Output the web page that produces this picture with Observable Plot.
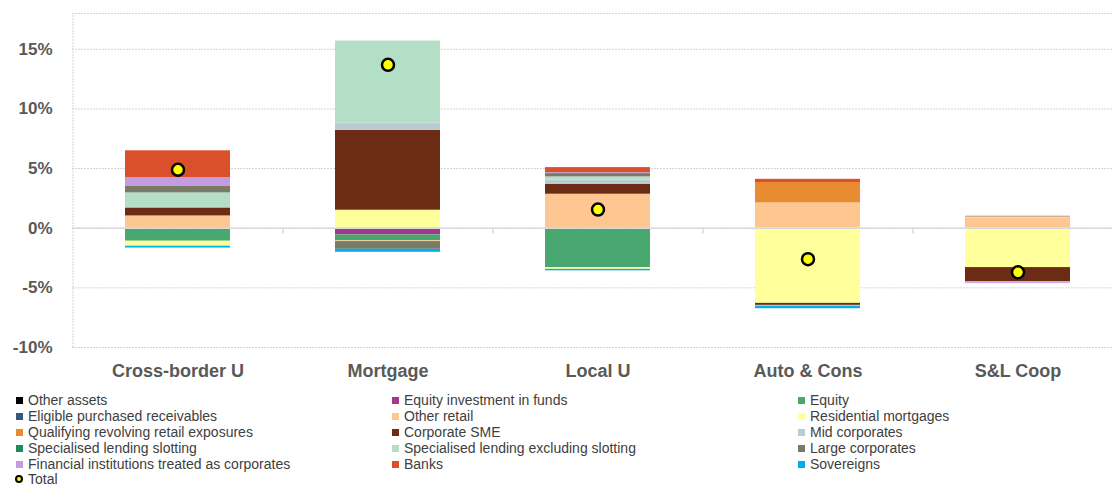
<!DOCTYPE html>
<html>
<head>
<meta charset="utf-8">
<script src="https://cdn.jsdelivr.net/npm/d3@7"></script>
<script src="https://cdn.jsdelivr.net/npm/@observablehq/plot@0.6"></script>
<style>
  html, body { margin: 0; padding: 0; background: #fff; overflow: hidden; }
  #wrap { position: relative; width: 1112px; height: 488px; overflow: hidden; font-family: "Liberation Sans", Arial, sans-serif; }
  #chart { position: absolute; left: 0; top: 0; }
  #chart svg { max-width: none !important; }
  .leg { position: absolute; font-size: 14px; color: #404040; white-space: nowrap; line-height: 12px; }
  .sw { position: absolute; width: 7px; height: 7px; top: 2.5px; left: -12px; }
  .dotsw { position: absolute; width: 4px; height: 4px; top: 2px; left: -13px; border: 2px solid #000; border-radius: 50%; background: #ffff00; }
</style>
</head>
<body>
<div id="wrap"><div id="chart"></div><div id="legend"></div></div>
<script>
// Categories
const categories = ["Cross-border U", "Mortgage", "Local U", "Auto & Cons", "S&L Coop"];

// Series values (percent), in category order
const otherAssets            = [0, 0, 0, 0, 0];
const equityInvestmentFunds  = [0, -0.56, 0, 0, 0];
const equity                 = [-1.09, -0.5, -3.3, 0, 0];
const eligibleReceivables    = [0, 0, 0, 0, 0];
const otherRetail            = [1.03, -0.06, 2.85, 2.12, 0.85];
const residentialMortgages   = [-0.42, 1.51, -0.15, -6.3, -3.3];
const qualifyingRevolving    = [0, 0, 0, 1.71, 0];
const corporateSME           = [0.67, 6.7, 0.84, -0.17, -1.2];
const midCorporates          = [0, 0.61, 0.35, -0.08, -0.06];
const specLendingSlotting    = [0, 0, 0, 0, 0];
const specLendingExSlotting  = [1.26, 6.87, 0.26, 0, 0.1];
const largeCorporates        = [0.58, -0.65, 0.28, 0, 0];
const financialInstitutions  = [0.7, 0, 0.08, 0, -0.08];
const banks                  = [2.25, 0, 0.42, 0.27, 0.05];
const sovereigns             = [-0.15, -0.25, -0.12, -0.2, 0];
const total                  = [4.9, 13.7, 1.56, -2.6, -3.7];

// Series names and colours
const seriesNames = [
  "Other assets", "Equity investment in funds", "Equity",
  "Eligible purchased receivables", "Other retail", "Residential mortgages",
  "Qualifying revolving retail exposures", "Corporate SME", "Mid corporates",
  "Specialised lending slotting", "Specialised lending excluding slotting", "Large corporates",
  "Financial institutions treated as corporates", "Banks", "Sovereigns"
];
const seriesColors = [
  "#000000", "#a4398c", "#48a870",
  "#2f5b7c", "#fec690", "#ffff9b",
  "#e98b31", "#6b2b14", "#b9ccd4",
  "#1f8a5a", "#b3dfc6", "#7a7a66",
  "#c49ce0", "#d9502a", "#00aeef"
];
const seriesValues = [
  otherAssets, equityInvestmentFunds, equity,
  eligibleReceivables, otherRetail, residentialMortgages,
  qualifyingRevolving, corporateSME, midCorporates,
  specLendingSlotting, specLendingExSlotting, largeCorporates,
  financialInstitutions, banks, sovereigns
];
const yTicks = [-10, -5, 0, 5, 10, 15];

// Long-form table
const rows = [];
seriesNames.forEach((s, i) => {
  categories.forEach((c, j) => {
    rows.push({ series: s, category: c, value: seriesValues[i][j] });
  });
});
const totals = categories.map((c, j) => ({ category: c, value: total[j] }));

const chart = Plot.plot({
  width: 1122,
  height: 390,
  marginLeft: 72,
  marginRight: 0,
  marginTop: 13,
  marginBottom: 43,
  style: { fontFamily: "Liberation Sans, Arial, sans-serif", background: "transparent", maxWidth: "none" },
  x: { domain: categories, paddingInner: 0.5, paddingOuter: 0.25, label: null },
  y: { domain: [-10, 18], label: null },
  color: { domain: seriesNames, range: seriesColors },
  marks: [
    Plot.ruleY(yTicks, { stroke: "#d4d4d4", strokeDasharray: "2,1", strokeWidth: 1 }),
    Plot.ruleY([18], { stroke: "#d4d4d4", strokeDasharray: "2,1", strokeWidth: 1 }),
    Plot.ruleX([categories[0]], { dx: -105, y1: -10, y2: 18, stroke: "#d4d4d4", strokeDasharray: "2,1" }),
    Plot.barY(rows, { x: "category", y: "value", fill: "series", order: seriesNames }),
    Plot.ruleY([0], { stroke: "#d9d9d9", strokeWidth: 1.5 }),
    Plot.ruleX(categories.slice(1), { dx: -105, y1: 0, y2: -0.5, stroke: "#d9d9d9", strokeWidth: 1.5 }),
    Plot.dot(totals, { x: "category", y: "value", r: 6, fill: "#ffff00", stroke: "#000", strokeWidth: 2.5 }),
    Plot.axisY(yTicks, { tickSize: 0, tickPadding: 20, tickFormat: d => d + "%", fontSize: 17, fontWeight: "bold", fill: "#595959" }),
    Plot.axisX({ tickSize: 0, tickPadding: 17, fontSize: 18, fontWeight: "bold", fill: "#595959" })
  ]
});
chart.style.maxWidth = "none";
document.getElementById("chart").appendChild(chart);

// Legend (3 columns, row-major)
const legend = document.getElementById("legend");
const colX = [28, 404, 810];
const rowY = [394, 410, 426, 442, 458, 473];
const legendItems = seriesNames.map((s, i) => ({ name: s, color: seriesColors[i] }));
legendItems.push({ name: "Total", total: true });
legendItems.forEach((it, i) => {
  const col = i % 3, row = Math.floor(i / 3);
  const d = document.createElement("div");
  d.className = "leg";
  d.style.left = colX[col] + "px";
  d.style.top = rowY[row] + "px";
  const sw = document.createElement("span");
  if (it.total) { sw.className = "dotsw"; }
  else { sw.className = "sw"; sw.style.background = it.color; }
  d.appendChild(sw);
  d.appendChild(document.createTextNode(it.name));
  legend.appendChild(d);
});
</script>
</body>
</html>
